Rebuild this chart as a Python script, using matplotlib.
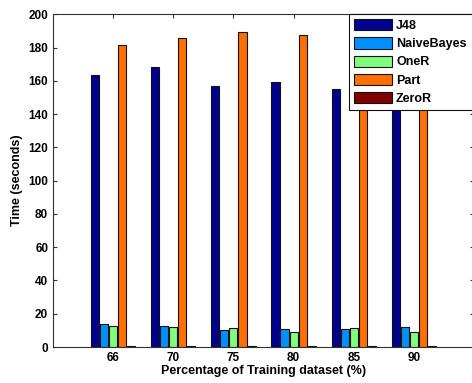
import matplotlib
matplotlib.use("Agg")
import matplotlib.pyplot as plt
import numpy as np

categories = ["66", "70", "75", "80", "85", "90"]
series_names = ["J48", "NaiveBayes", "OneR", "Part", "ZeroR"]
j48 = [163.5, 168.3, 156.9, 159.2, 155.0, 157.0]
naive_bayes = [13.6, 12.4, 10.0, 10.6, 10.6, 11.8]
one_r = [12.4, 11.8, 11.2, 9.2, 11.2, 9.2]
part = [181.8, 186.0, 189.6, 187.8, 186.0, 188.0]
zero_r = [0.8, 0.8, 0.8, 0.8, 0.8, 0.8]
y_ticks = [0, 20, 40, 60, 80, 100, 120, 140, 160, 180, 200]

colors = ["#00008F", "#008FFF", "#80FF80", "#FF7000", "#800000"]

plt.rcParams['font.family'] = ['Liberation Sans', 'DejaVu Sans']
plt.rcParams['font.weight'] = 'bold'

fig = plt.figure(figsize=(4.72, 3.83), dpi=100)
ax = fig.add_axes([53/472, 36/383, 421/472, 332.7/383])

x = np.arange(1, len(categories) + 1)
slot = 0.15
width = 0.135
all_series = [j48, naive_bayes, one_r, part, zero_r]
for i, (vals, name, c) in enumerate(zip(all_series, series_names, colors)):
    ax.bar(x + (i - 2) * slot, vals, width=width, color=c, edgecolor="#111111",
           linewidth=0.8, label=name, zorder=2)

ax.set_xlim(0, 7)
ax.set_ylim(0, 200)
ax.set_xticks(x)
ax.set_xticklabels(categories)
ax.set_yticks(y_ticks)
ax.tick_params(direction='in', length=3, width=0.8, color='#333333',
               top=True, right=True, labelsize=8.5, pad=3.5)
for lab in ax.get_xticklabels() + ax.get_yticklabels():
    lab.set_fontweight('bold')
for s in ax.spines.values():
    s.set_color('#333333')
    s.set_linewidth(0.8)

ax.set_xlabel("Percentage of Training dataset (%)", fontsize=9, fontweight='bold', labelpad=1)
ax.set_ylabel("Time (seconds)", fontsize=9, fontweight='bold', labelpad=4)

leg = ax.legend(loc='upper left', bbox_to_anchor=(0.702, 0.0, 0.32, 1.0), mode='expand',
                fancybox=False, edgecolor='#111111', framealpha=1, fontsize=9,
                handlelength=3.1, handleheight=1.0, labelspacing=0.42,
                handletextpad=0.3, borderpad=0.4, borderaxespad=0)
leg.get_frame().set_linewidth(0.8)
for t in leg.get_texts():
    t.set_fontweight('bold')

fig.savefig("out.png", dpi=100)
